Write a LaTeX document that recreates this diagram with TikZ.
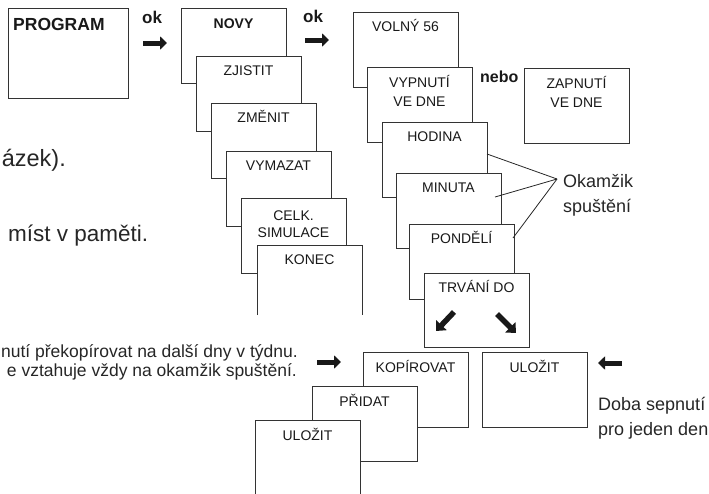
\documentclass[tikz,border=0pt]{standalone}
\usepackage{fontspec}
\setmainfont{Liberation Sans}
\usetikzlibrary{arrows.meta,calc}
\begin{document}
\begin{tikzpicture}[x=1pt,y=-1pt,
  box/.style={draw=black!80, line width=0.9pt, fill=white, anchor=north west,
    minimum width=105pt, minimum height=75pt, inner sep=0pt, outer sep=0pt},
  openbox/.style={anchor=north west, minimum width=105pt, minimum height=75pt,
    inner sep=0pt, outer sep=0pt, fill=white},
  edge/.style={draw=black!80, line width=0.9pt},
  lbl/.style={anchor=base, font=\fontsize{14}{19.5}\selectfont, text=black!90,
    inner sep=0pt, align=center},
  blbl/.style={lbl, font=\fontsize{14}{17}\selectfont\bfseries},
  okl/.style={anchor=base west, inner sep=0pt, text=black!90,
    font=\fontsize{17}{20}\selectfont\bfseries},
  big/.style={anchor=base west, inner sep=0pt, text=black!85,
    font=\fontsize{18}{25}\selectfont, align=left},
  side/.style={inner sep=0pt, text=black!85, font=\fontsize{17.5}{19}\selectfont},
  huge/.style={inner sep=0pt, text=black!85, font=\fontsize{22.5}{26}\selectfont},
  bigarrow/.style={line width=5pt, black!90, -{Triangle[length=7pt,width=13pt]}},
  diagarrow/.style={line width=5.5pt, black!90, -{Triangle[length=8pt,width=14pt]}},
  callout/.style={draw=black!85, line width=0.8pt}]
\useasboundingbox (0,0) rectangle (709,493);
\clip (0,0) rectangle (709,493);

% PROGRAM
\node[box, minimum width=120pt, minimum height=90pt] (program) at (8,8) {};
\node[anchor=base west, inner sep=0pt, text=black!90,
  font=\fontsize{17.5}{20}\selectfont\bfseries] (programt) at (13,30) {PROGRAM};

% ok arrows
\node[okl] (ok1) at (142,23) {ok};
\coordinate (a1s) at (143,43);
\coordinate (a1e) at (167,43);
\draw[bigarrow] (a1s) -- (a1e);
\node[okl] (ok2) at (303,22) {ok};
\coordinate (a2s) at (305,40);
\coordinate (a2e) at (329,40);
\draw[bigarrow] (a2s) -- (a2e);

% middle stack
\node[box] (novy) at (181,8) {};
\node[blbl] at ([yshift=-20pt]novy.north) {NOVY};
\node[box] (zjistit) at (196,56) {};
\node[lbl] at ([yshift=-19pt]zjistit.north) {ZJISTIT};
\node[box] (zmenit) at (211,103) {};
\node[lbl] at ([yshift=-19pt]zmenit.north) {ZMĚNIT};
\node[box] (vymazat) at (226,151) {};
\node[lbl] at ([yshift=-19pt]vymazat.north) {VYMAZAT};
\node[box] (celk) at (241,198) {};
\node[lbl, font=\fontsize{14}{16.5}\selectfont] at ([yshift=-39pt]celk.north) {CELK.\\SIMULACE};
\node[openbox, minimum height=70pt] (konec) at (257,245) {};
\draw[edge] (konec.south west) -- (konec.north west) -- (konec.north east) -- (konec.south east);
\node[lbl] at ([yshift=-19pt]konec.north) {KONEC};

% right stack
\node[box] (volny) at (353,12) {};
\node[lbl] at ([yshift=-19pt]volny.north) {VOLNÝ 56};
\node[box] (vypnuti) at (367,67) {};
\node[lbl] at ([yshift=-39.5pt]vypnuti.north) {VYPNUTÍ\\VE DNE};
\node[box] (hodina) at (382,122) {};
\node[lbl] at ([yshift=-19pt]hodina.north) {HODINA};
\node[box] (minuta) at (396,173) {};
\node[lbl] at ([yshift=-19pt]minuta.north) {MINUTA};
\node[box] (pondeli) at (409,224) {};
\node[lbl] at ([yshift=-19pt]pondeli.north) {PONDĚLÍ};
\node[box, minimum height=74pt] (trvani) at (424,273) {};
\node[lbl] at ([yshift=-19pt]trvani.north) {TRVÁNÍ DO};
\coordinate (t1s) at (454,312);
\coordinate (t1e) at (436,331);
\draw[diagarrow] (t1s) -- (t1e);
\coordinate (t2s) at (497,314);
\coordinate (t2e) at (516,333);
\draw[diagarrow] (t2s) -- (t2e);

\node[okl, font=\fontsize{16}{19}\selectfont\bfseries] (nebo) at (480,82) {nebo};
\node[box] (zapnuti) at (524,68) {};
\node[lbl] at ([yshift=-39.5pt]zapnuti.north) {ZAPNUTÍ\\VE DNE};

% callout
\coordinate (okp) at (557,179);
\draw[callout] ($(hodina.north east)+(0,32)$) -- (okp);
\draw[callout] ($(minuta.north east)+(-6,24)$) -- (okp);
\draw[callout] ($(pondeli.north east)+(-1,14)$) -- (okp);
\node[big] (okam) at (563,212) {Okamžik\\spuštění};

% bottom stack
\node[box] (kopirovat) at (363,352) {};
\node[lbl] at ([yshift=-20pt]kopirovat.north) {KOPÍROVAT};
\node[box] (pridat) at (312,386) {};
\node[lbl] at ([yshift=-20pt]pridat.north) {PŘIDAT};
\node[openbox, minimum height=80pt] (ulozitl) at (255,420) {};
\draw[edge] (ulozitl.south west) -- (ulozitl.north west) -- (ulozitl.north east) -- (ulozitl.south east);
\node[lbl] at ([yshift=-20pt]ulozitl.north) {ULOŽIT};
\node[box] (ulozitr) at (482,352) {};
\node[lbl] at ([yshift=-20pt]ulozitr.north) {ULOŽIT};

\coordinate (b1s) at (317,362);
\coordinate (b1e) at (341,362);
\draw[bigarrow] (b1s) -- (b1e);
\coordinate (b2s) at (622,363);
\coordinate (b2e) at (598,363);
\draw[bigarrow] (b2s) -- (b2e);
\node[big] (doba) at (598,435) {Doba sepnutí\\pro jeden den};

% side texts (as far as the picture shows them)
\node[huge, anchor=base east, font=\fontsize{23.5}{26}\selectfont] (t1) at (66,166) {ázek).};
\node[huge, anchor=base west] (t2) at (8,241) {míst v paměti.};
\node[side, anchor=base east] (t3) at (298,357) {nutí překopírovat na další dny v týdnu.};
\node[side, anchor=base east] (t4) at (297,376) {e vztahuje vždy na okamžik spuštění.};
\end{tikzpicture}
\end{document}
